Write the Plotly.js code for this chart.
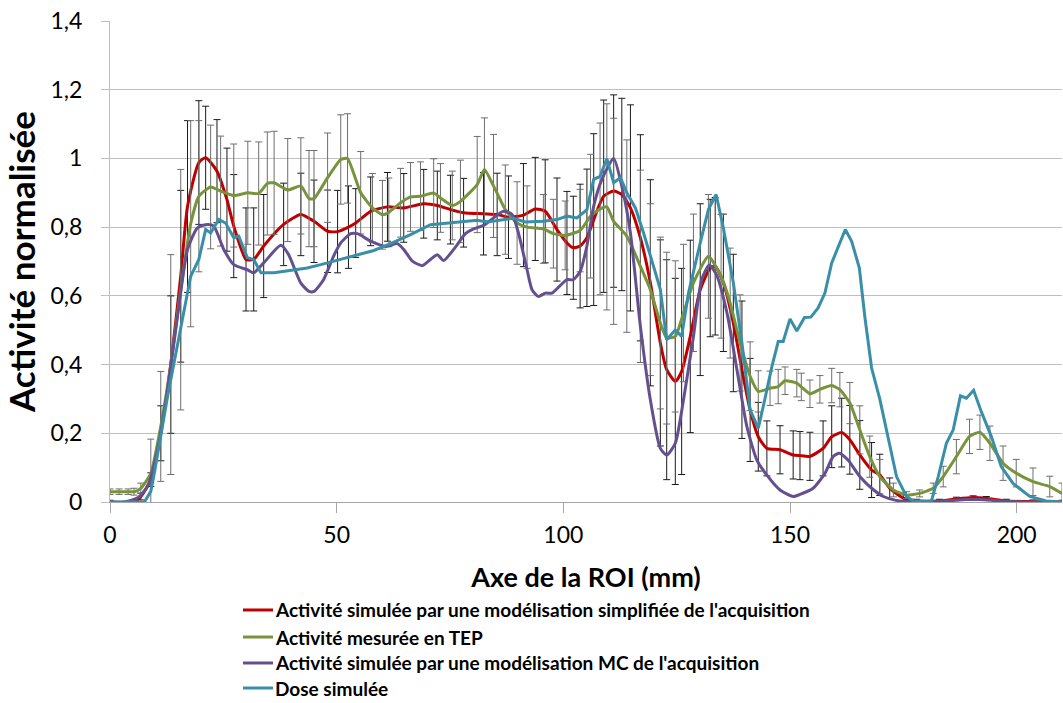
<!DOCTYPE html>
<html>
<head>
<meta charset="utf-8">
<script src="https://cdn.plot.ly/plotly-3.0.1.min.js"></script>
<style>html,body{margin:0;padding:0;background:#fff;}#chart{width:1063px;height:703px;}</style>
</head>
<body>
<div id="chart"></div>
<script>
// Series names
const names = [
  "Activité simulée par une modélisation simplifiée de l'acquisition",
  "Activité mesurée en TEP",
  "Activité simulée par une modélisation MC de l'acquisition",
  "Dose simulée"
];
const colors = ['#c00000', '#77933c', '#65508f', '#3a8fa8'];

// Red: simplified simulation
const redX = [0,5.3,6.8,9,11.2,13.4,15.6,17.1,19.6,21.1,23.6,25.8,27.3,30,31.7,33.9,38.3,42.1,45,48,50.2,52.6,54.2,57.5,61.2,64.8,69.2,72.2,75.1,78,82.4,85.4,87.9,91.2,93.8,96,98.6,100.8,102.2,103.7,105.2,106.7,108.9,111.1,112.9,114.8,117,119.2,121.4,122.8,124.7,126.1,128,130.2,132.4,133.5,135.3,137.5,139.4,141.2,143,144.9,147.8,150.7,152.2,154.4,157.3,159.2,161.4,163.2,165.4,168,169.8,172,175,177.9,183,186.7,190.4,193.3,197.7,203.6,210];
const redY = [0,0,0.016,0.065,0.20,0.40,0.657,0.86,0.988,1.002,0.963,0.88,0.803,0.706,0.706,0.745,0.808,0.837,0.817,0.788,0.787,0.80,0.812,0.846,0.859,0.856,0.868,0.863,0.851,0.842,0.839,0.837,0.829,0.835,0.853,0.846,0.793,0.754,0.74,0.745,0.769,0.822,0.89,0.905,0.895,0.856,0.769,0.638,0.463,0.385,0.351,0.38,0.482,0.618,0.681,0.686,0.638,0.521,0.385,0.268,0.19,0.156,0.152,0.137,0.135,0.133,0.156,0.19,0.202,0.181,0.137,0.093,0.079,0.04,0.011,0.003,0.003,0.009,0.013,0.011,0.003,0.001,0];
const redErr = [0.005,0.005,0.01,0.02,0.08,0.2,0.25,0.25,0.18,0.15,0.15,0.15,0.15,0.15,0.15,0.15,0.12,0.12,0.12,0.12,0.12,0.12,0.1,0.1,0.1,0.1,0.1,0.1,0.1,0.1,0.12,0.12,0.12,0.15,0.15,0.15,0.15,0.15,0.15,0.18,0.2,0.25,0.28,0.28,0.28,0.3,0.3,0.3,0.3,0.32,0.3,0.3,0.28,0.25,0.2,0.2,0.2,0.2,0.2,0.15,0.1,0.08,0.07,0.07,0.07,0.07,0.08,0.09,0.1,0.1,0.1,0.08,0.06,0.03,0.01,0.005,0.005,0.005,0.005,0.005,0.005,0.005,0.005];

// Green: measured PET
const greenX = [0,2,4,5.3,6.8,9,11.2,13.4,15.6,17.8,19.6,22.2,24.4,27.3,30.4,32.8,34.7,36.2,39.2,42.1,43.9,45,48,50.9,52.4,55.3,57.9,60.1,61.5,64.1,66.3,68.5,71.4,72.9,75.5,77.3,81,82.6,84.6,87.2,89.8,92,95.6,97.8,100.4,103.7,106,108.1,109.6,111.1,114,117,119.2,121.4,122.8,124.7,126.5,128.7,132,134.8,136.8,139,141.2,143,145.6,147.4,148.9,151.5,152.5,154.4,156.6,159.2,161,163.2,165.4,167.6,169.8,172.8,175.7,178.6,181.6,183.8,186.7,189.6,191.9,194.1,197,199.9,203.6,207.3,210];
const greenY = [0.03,0.03,0.03,0.03,0.04,0.083,0.22,0.40,0.618,0.81,0.89,0.917,0.905,0.892,0.90,0.898,0.927,0.929,0.908,0.92,0.883,0.883,0.944,0.997,1.0,0.90,0.856,0.836,0.843,0.871,0.888,0.89,0.899,0.885,0.863,0.875,0.924,0.968,0.92,0.851,0.812,0.80,0.795,0.781,0.776,0.79,0.832,0.853,0.859,0.817,0.774,0.686,0.618,0.521,0.477,0.482,0.55,0.638,0.715,0.657,0.579,0.463,0.366,0.322,0.331,0.336,0.353,0.346,0.335,0.315,0.328,0.339,0.327,0.288,0.21,0.132,0.074,0.035,0.02,0.025,0.04,0.074,0.132,0.191,0.203,0.171,0.113,0.084,0.059,0.045,0.025];
const greenErr = [0.008,0.008,0.008,0.01,0.015,0.1,0.16,0.32,0.35,0.3,0.22,0.18,0.16,0.15,0.15,0.15,0.15,0.15,0.15,0.14,0.14,0.14,0.13,0.13,0.13,0.12,0.1,0.1,0.1,0.1,0.1,0.1,0.1,0.1,0.1,0.12,0.14,0.15,0.15,0.13,0.12,0.12,0.1,0.1,0.1,0.12,0.18,0.25,0.3,0.3,0.28,0.28,0.25,0.25,0.25,0.22,0.2,0.2,0.18,0.18,0.16,0.14,0.1,0.06,0.05,0.05,0.04,0.04,0.04,0.04,0.04,0.05,0.05,0.06,0.07,0.06,0.05,0.02,0.01,0.01,0.015,0.03,0.05,0.05,0.05,0.05,0.05,0.04,0.04,0.03,0.03];

// Purple: MC simulation
const purpleX = [0,3,6.1,8.3,10.5,12.7,14.9,17.1,19.3,21.5,22.9,25.1,27.3,30.3,31.7,33.9,37.7,39.4,42.1,43.9,45,47.1,49.3,50.9,53.1,54.6,57.5,60.8,63.4,64.8,66.7,68.9,70.7,72.2,73.6,76.2,78.4,80.2,82.4,84.6,86.8,88.7,90.1,92,93.1,94.5,96,97.5,99.3,100.8,102.2,103.7,105.2,106.7,108.5,111.1,112.9,114.8,117,119.2,121.4,122.8,124.7,126.5,128.7,130.5,132.2,133.8,136.1,138.3,140.5,142.7,144.9,147.8,150.7,152.2,155.1,157.7,159.5,160.9,162.8,165.4,168,170.6,174.2,180,185,188.9,191.9,196.3,202,210];
const purpleY = [0,0,0.012,0.046,0.152,0.327,0.541,0.735,0.798,0.808,0.803,0.735,0.691,0.676,0.667,0.696,0.747,0.72,0.637,0.613,0.613,0.647,0.715,0.754,0.781,0.781,0.759,0.744,0.752,0.735,0.701,0.688,0.706,0.72,0.703,0.742,0.781,0.795,0.805,0.827,0.846,0.837,0.783,0.676,0.618,0.598,0.608,0.608,0.63,0.647,0.647,0.671,0.745,0.861,0.939,1.0,0.919,0.783,0.511,0.297,0.156,0.137,0.171,0.297,0.482,0.647,0.69,0.661,0.55,0.385,0.219,0.122,0.078,0.035,0.016,0.022,0.04,0.083,0.132,0.142,0.122,0.074,0.04,0.016,0.003,0.001,0.004,0.007,0.007,0.003,0,0];

// Cyan: simulated dose
const cyanX = [0,7.6,9,9.8,12.7,15.6,17.8,19.6,21.1,22.2,24,25.5,27.3,28.4,30.3,31.7,33.3,36.2,40.6,43.5,46.5,49.3,53.1,58.2,61.9,66.3,70.7,75.1,78,81,83.2,85.4,89,91.6,95.6,98.6,100.8,103,105.2,106.7,108.1,109.6,111.1,112.6,114,115.9,117.7,119.9,121.4,122.8,124.7,126.1,127.6,130.2,132,133.7,135.3,137.5,139.4,141.2,143,144.1,146,147.4,148.5,150,151.5,153.2,154.6,156.2,157.7,159.2,160.6,162.2,163.6,165.3,166.5,168,169.8,171.7,173.5,175.7,177.2,181.2,182.7,184.5,186,187.6,188.9,190.5,192.2,194.4,196.6,199.2,202.9,206.5,210];
const cyanY = [0,0,0.031,0.085,0.307,0.502,0.657,0.706,0.793,0.783,0.822,0.812,0.769,0.774,0.711,0.706,0.667,0.667,0.676,0.681,0.691,0.701,0.715,0.732,0.752,0.778,0.807,0.812,0.817,0.82,0.815,0.819,0.826,0.815,0.817,0.822,0.832,0.827,0.851,0.939,0.948,0.999,0.929,0.944,0.9,0.856,0.783,0.686,0.618,0.472,0.501,0.482,0.608,0.754,0.851,0.895,0.798,0.638,0.463,0.268,0.215,0.278,0.394,0.467,0.467,0.533,0.498,0.537,0.538,0.565,0.608,0.696,0.739,0.793,0.759,0.681,0.54,0.39,0.30,0.181,0.074,0.016,0.003,0.003,0.074,0.171,0.21,0.309,0.302,0.325,0.263,0.191,0.103,0.054,0.016,0.003,0];

const yTickVals = [0,0.2,0.4,0.6,0.8,1,1.2,1.4];
const xTickVals = [0,50,100,150,200];

const traces = [
  {x: redX, y: redY, name: names[0], type: 'scatter', mode: 'lines',
   line: {color: colors[0], width: 3, shape: 'spline', smoothing: 0.6},
   error_y: {type: 'data', array: redErr, visible: true, color: '#1a1a1a', thickness: 1, width: 3.5}},
  {x: greenX, y: greenY, name: names[1], type: 'scatter', mode: 'lines',
   line: {color: colors[1], width: 3, shape: 'spline', smoothing: 0.5},
   error_y: {type: 'data', array: greenErr, visible: true, color: '#6e6e6e', thickness: 1, width: 3.5}},
  {x: purpleX, y: purpleY, name: names[2], type: 'scatter', mode: 'lines',
   line: {color: colors[2], width: 3, shape: 'spline', smoothing: 0.6}},
  {x: cyanX, y: cyanY, name: names[3], type: 'scatter', mode: 'lines',
   line: {color: colors[3], width: 3}}
];

// Legend drawn below the plot (paper coordinates), one row per series
const legLineX0 = 0.1397, legLineX1 = 0.1712, legTextX = 0.1712;
const legRowY = [-0.2245, -0.2807, -0.3347, -0.3867];
const shapes = names.map((n, i) => ({
  type: 'line', xref: 'paper', yref: 'paper',
  x0: legLineX0, x1: legLineX1, y0: legRowY[i], y1: legRowY[i],
  line: {color: colors[i], width: 3}
}));
const annotations = names.map((n, i) => ({
  xref: 'paper', yref: 'paper', x: legTextX, y: legRowY[i],
  xanchor: 'left', yanchor: 'middle', showarrow: false, text: n,
  font: {size: 19, family: 'Lato, sans-serif', weight: 'bold', color: '#000'}
}));

const layout = {
  width: 1063, height: 703,
  margin: {l: 110, r: 1, t: 21, b: 201},
  paper_bgcolor: '#ffffff', plot_bgcolor: '#ffffff',
  separators: ',.',
  font: {family: 'Lato, "Open Sans", sans-serif', color: '#000'},
  showlegend: false,
  shapes: shapes,
  annotations: annotations,
  xaxis: {
    range: [0, 210], tickvals: xTickVals, ticktext: xTickVals.map(String),
    showgrid: false, zeroline: false, showline: true, linecolor: '#a6a6a6', linewidth: 1,
    ticks: 'outside', ticklen: 10, tickcolor: '#a6a6a6', ticklabelstandoff: 2,
    tickfont: {size: 23, color: '#000'},
    title: {text: 'Axe de la ROI (mm)', font: {size: 27, weight: 'bold', color: '#000'}, standoff: 21}
  },
  yaxis: {
    range: [0, 1.4], tickvals: yTickVals,
    showgrid: true, gridcolor: '#bfbfbf', gridwidth: 1, zeroline: false,
    showline: true, linecolor: '#bfbfbf', linewidth: 1,
    ticks: 'outside', ticklen: 8, tickcolor: '#bfbfbf', ticklabelstandoff: 14,
    tickfont: {size: 23, color: '#000'},
    title: {text: 'Activité normalisée', font: {size: 35, weight: 'bold', color: '#000'}, standoff: 4}
  }
};

Plotly.newPlot('chart', traces, layout, {displayModeBar: false, staticPlot: true});
</script>
</body>
</html>
